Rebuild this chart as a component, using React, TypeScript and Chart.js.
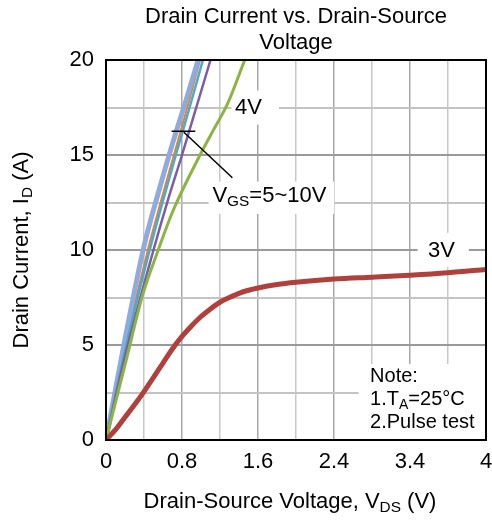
import React, { useEffect, useRef } from "react";
import { Chart, registerables } from "chart.js";

Chart.register(...registerables);

// ---- data ----
const vgs5to10_a_x = [0, 0.2, 0.4, 0.55, 0.7, 0.85, 0.97];
const vgs5to10_a_y = [0, 5.3, 10.2, 13.0, 15.6, 18.0, 20];
const vgs5to10_b_x = [0, 0.2, 0.44, 0.58, 0.715, 0.85, 0.99];
const vgs5to10_b_y = [0, 4.9, 10, 12.6, 15, 17.4, 20];
const vgs5to10_c_x = [0, 0.2, 0.46, 0.6, 0.735, 0.88, 1.02];
const vgs5to10_c_y = [0, 4.7, 10, 12.6, 15, 17.5, 20];
const vgs5to10_d_x = [0, 0.2, 0.5, 0.65, 0.8, 0.95, 1.1];
const vgs5to10_d_y = [0, 4.4, 10, 12.6, 15, 17.5, 20];
const vgs4_x = [0, 0.2, 0.39, 0.55, 0.7, 0.99, 1.14, 1.28, 1.46];
const vgs4_y = [0, 3.95, 7.7, 10, 12.0, 15, 16.4, 17.7, 20];
const vgs3_x = [0, 0.1, 0.2, 0.3, 0.4, 0.5, 0.6, 0.7, 0.8, 0.9, 1.0, 1.1, 1.2, 1.3, 1.4, 1.5, 1.6, 1.8, 2.0, 2.4, 2.8, 3.2, 3.6, 4.0];
const vgs3_y = [0, 0.55, 1.2, 1.85, 2.55, 3.3, 4.05, 4.8, 5.45, 6.0, 6.5, 6.9, 7.25, 7.5, 7.72, 7.88, 8.0, 8.18, 8.3, 8.47, 8.57, 8.67, 8.8, 8.98];

const xTickLabels = ["0", "", "0.8", "", "1.6", "", "2.4", "", "3.4", "", "4"];
const yTickLabels = ["0", "", "5", "", "10", "", "15", "", "20"];

const FONT = "'Liberation Sans', Arial, sans-serif";

type Part = { t: string; sub?: boolean };

function richWidth(ctx: CanvasRenderingContext2D, parts: Part[], size: number) {
  let w = 0;
  for (const p of parts) {
    ctx.font = `${p.sub ? size * 0.7 : size}px ${FONT}`;
    w += ctx.measureText(p.t).width;
  }
  return w;
}

function drawRich(ctx: CanvasRenderingContext2D, parts: Part[], x: number, y: number, size: number, align: "left" | "center") {
  const w = richWidth(ctx, parts, size);
  let cx = align === "center" ? x - w / 2 : x;
  ctx.textAlign = "left";
  ctx.textBaseline = "middle";
  ctx.fillStyle = "#000";
  for (const p of parts) {
    const s = p.sub ? size * 0.7 : size;
    ctx.font = `${s}px ${FONT}`;
    ctx.fillText(p.t, cx, p.sub ? y + size * 0.28 : y);
    cx += ctx.measureText(p.t).width;
  }
}

const pts = (xs: number[], ys: number[]) => xs.map((x, i) => ({ x, y: ys[i] }));

export default function App() {
  const ref = useRef<HTMLCanvasElement>(null);

  useEffect(() => {
    if (!ref.current) return;

    const boxesPlugin = {
      id: "boxes",
      beforeDatasetsDraw(chart: any) {
        const { ctx, scales } = chart;
        const x = scales.x, y = scales.y;
        const box = (x0: number, y0: number, x1: number, y1: number) => {
          const px0 = x.getPixelForValue(x0), px1 = x.getPixelForValue(x1);
          const py0 = y.getPixelForValue(y1), py1 = y.getPixelForValue(y0);
          ctx.fillRect(px0, py0, px1 - px0, py1 - py0);
        };
        ctx.save();
        ctx.fillStyle = "#fff";
        box(1.32, 16.6, 1.82, 18.4);
        box(3.28, 9.1, 3.82, 10.9);
        box(1.08, 11.9, 2.4, 13.6);
        box(2.66, 0, 4, 4.0);
        ctx.restore();
      },
      afterDatasetsDraw(chart: any) {
        const { ctx, scales, chartArea } = chart;
        const x = scales.x, y = scales.y;
        ctx.save();
        ctx.strokeStyle = "#000";
        ctx.lineWidth = 1.5;
        ctx.beginPath();
        ctx.moveTo(x.getPixelForValue(0.69), y.getPixelForValue(16.25));
        ctx.lineTo(x.getPixelForValue(0.94), y.getPixelForValue(16.25));
        ctx.moveTo(x.getPixelForValue(0.82), y.getPixelForValue(16.2));
        ctx.lineTo(x.getPixelForValue(1.33), y.getPixelForValue(13.8));
        ctx.stroke();
        drawRich(ctx, [{ t: "4V" }], x.getPixelForValue(1.5), y.getPixelForValue(17.5), 22, "center");
        drawRich(ctx, [{ t: "3V" }], x.getPixelForValue(3.53), y.getPixelForValue(9.95), 22, "center");
        drawRich(ctx, [{ t: "V" }, { t: "GS", sub: true }, { t: "=5~10V" }], x.getPixelForValue(1.12), y.getPixelForValue(12.85), 22, "left");
        drawRich(ctx, [{ t: "Note:" }], x.getPixelForValue(2.78), y.getPixelForValue(3.35), 20, "left");
        drawRich(ctx, [{ t: "1.T" }, { t: "A", sub: true }, { t: "=25°C" }], x.getPixelForValue(2.78), y.getPixelForValue(2.15), 20, "left");
        drawRich(ctx, [{ t: "2.Pulse test" }], x.getPixelForValue(2.78), y.getPixelForValue(0.9), 20, "left");
        ctx.strokeStyle = "#000";
        ctx.lineWidth = 2;
        ctx.strokeRect(chartArea.left, chartArea.top, chartArea.right - chartArea.left, chartArea.bottom - chartArea.top);
        ctx.restore();
      },
      afterDraw(chart: any) {
        const { ctx, chartArea } = chart;
        const cx = (chartArea.left + chartArea.right) / 2;
        const cy = (chartArea.top + chartArea.bottom) / 2;
        ctx.save();
        drawRich(ctx, [{ t: "Drain Current vs. Drain-Source" }], cx, 17, 22, "center");
        drawRich(ctx, [{ t: "Voltage" }], cx, 43, 22, "center");
        drawRich(ctx, [{ t: "Drain-Source Voltage, V" }, { t: "DS", sub: true }, { t: " (V)" }], cx - 6, 502, 22, "center");
        ctx.translate(22, cy);
        ctx.rotate(-Math.PI / 2);
        drawRich(ctx, [{ t: "Drain Current, I" }, { t: "D", sub: true }, { t: " (A)" }], 0, 0, 22, "center");
        ctx.restore();
      },
    };

    const mk = (label: string, data: any[], color: string, width: number) => ({
      label,
      data,
      borderColor: color,
      backgroundColor: color,
      borderWidth: width,
      pointRadius: 0,
      cubicInterpolationMode: "monotone" as const,
      fill: false,
    });

    const chart = new Chart(ref.current, {
      type: "line",
      data: {
        datasets: [
          mk("3V", pts(vgs3_x, vgs3_y), "#b0403b", 5),
          mk("4V", pts(vgs4_x, vgs4_y), "#8cb441", 3),
          mk("d", pts(vgs5to10_d_x, vgs5to10_d_y), "#7a5ca8", 2.5),
          mk("c", pts(vgs5to10_c_x, vgs5to10_c_y), "#4bacc6", 2.5),
          mk("a", pts(vgs5to10_a_x, vgs5to10_a_y), "#8faadc", 5),
          mk("b", pts(vgs5to10_b_x, vgs5to10_b_y), "#ed7d31", 2),
        ],
      },
      options: {
        responsive: false,
        animation: false,
        layout: { padding: { top: 60, right: 6, left: 0, bottom: 0 } },
        plugins: { legend: { display: false }, tooltip: { enabled: false }, title: { display: false } },
        scales: {
          x: {
            type: "linear",
            min: 0,
            max: 4,
            afterFit: (s: any) => { s.height = 83; s.paddingLeft = 0; s.paddingRight = 0; },
            afterBuildTicks: (s: any) => {
              s.ticks = xTickLabels.map((_, i) => ({ value: i * 0.4 }));
            },
            ticks: {
              autoSkip: false,
              maxRotation: 0,
              padding: 9,
              color: "#000",
              font: { family: FONT, size: 22 },
              callback: (_v: any, i: number) => xTickLabels[i],
            },
            grid: {
              drawTicks: false,
              color: (c: any) => (c.index % 2 === 0 ? "#a8a8a8" : "#c8c8c8"),
              lineWidth: 1.5,
            },
            border: { display: true, color: "#000", width: 2 },
          },
          y: {
            type: "linear",
            min: 0,
            max: 20,
            afterFit: (s: any) => { s.width = 106; s.paddingTop = 0; s.paddingBottom = 0; },
            afterBuildTicks: (s: any) => {
              s.ticks = yTickLabels.map((_, i) => ({ value: i * 2.5 }));
            },
            ticks: {
              autoSkip: false,
              padding: 12,
              color: "#000",
              font: { family: FONT, size: 22 },
              callback: (_v: any, i: number) => yTickLabels[i],
            },
            grid: {
              drawTicks: false,
              color: (c: any) => (c.index % 2 === 0 ? "#9a9a9a" : "#c4c4c4"),
              lineWidth: 2,
            },
            border: { display: true, color: "#000", width: 2 },
          },
        },
      },
      plugins: [boxesPlugin],
    });

    return () => chart.destroy();
  }, []);

  return (
    <div style={{ position: "fixed", left: 0, top: 0, width: 492, height: 523, background: "#fff" }}>
      <canvas ref={ref} width={492} height={523} style={{ width: 492, height: 523 }} />
    </div>
  );
}
